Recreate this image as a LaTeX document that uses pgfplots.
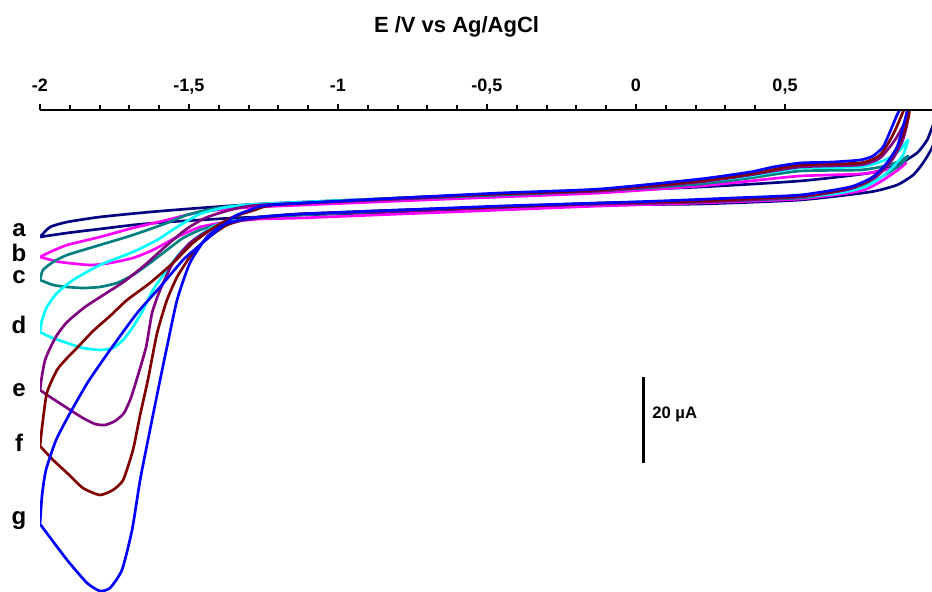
\documentclass[border=0pt]{standalone}
\usepackage{fontspec}
\setmainfont{Liberation Sans}
\usepackage{pgfplots}
\pgfplotsset{compat=1.18}
\definecolor{cnavy}{RGB}{0,0,128}
\definecolor{cmag}{RGB}{255,0,255}
\definecolor{cteal}{RGB}{0,128,128}
\definecolor{ccyan}{RGB}{0,255,255}
\definecolor{cpurp}{RGB}{128,0,128}
\definecolor{cmaroon}{RGB}{128,0,0}
\definecolor{cblue}{RGB}{0,0,255}
\begin{document}
\begin{tikzpicture}
\useasboundingbox (0,0) rectangle (699pt,444pt);
\begin{axis}[
  at={(30pt,0pt)}, anchor=south west,
  scale only axis, width=669pt, height=361.5pt,
  xmin=-2, xmax=0.9933, ymin=-91.16, ymax=20.93,
  axis x line*=top, axis y line=none,
  axis on top,
  xtick={-2,-1.5,-1,-0.5,0,0.5},
  xticklabels={-2,{-1,5},-1,{-0,5},0,{0,5}},
  minor x tick num=4,
  tick align=outside,
  major tick length=4.5pt, minor tick length=3.5pt,
  every tick/.style={black, line width=1.5pt},
  x axis line style={line width=2pt},
  xticklabel style={font=\fontsize{13.5}{13.5}\selectfont\bfseries, anchor=base, yshift=9.5pt},
  every axis plot/.append style={line width=2pt, line join=round, no markers, smooth, tension=0.35},
]
% a (navy)
\addplot[cnavy] coordinates {
(-2.000,-8.60) (-1.966,-6.28) (-1.909,-5.12) (-1.799,-3.95) (-1.631,-2.79) (-1.463,-1.86)
(-1.262,-0.93) (-0.792,0.47) (-0.456,1.40) (-0.121,2.09) (0.215,3.02) (0.550,4.42)
(0.785,6.28) (0.876,8.14) (0.943,10.93) (0.977,13.95) (0.993,16.74) (1.037,23.72)
(1.020,17.44) (0.993,12.09) (0.963,8.60) (0.930,5.81) (0.876,3.49) (0.785,1.86)
(0.550,0) (0.215,-0.93) (-0.121,-1.16) (-0.456,-1.86) (-0.792,-2.79) (-1.128,-3.49)
(-1.262,-3.95) (-1.352,-4.19) (-1.463,-4.65) (-1.574,-5.12) (-1.688,-5.81) (-1.799,-6.74)
(-1.909,-7.67) (-2.000,-8.60)};
% b (magenta)
\addplot[cmag] coordinates {
(-2.000,-13.26) (-1.966,-12.09) (-1.909,-10.47) (-1.799,-8.60) (-1.688,-6.51) (-1.574,-4.65)
(-1.463,-2.79) (-1.329,-1.86) (-1.195,-1.40) (-0.792,-0.23) (-0.456,0.70) (-0.121,1.63)
(0.215,3.26) (0.383,4.42) (0.550,5.58) (0.752,6.05) (0.836,6.98) (0.886,7.91) (0.906,8.60)
(0.879,6.98) (0.819,4.19) (0.752,2.09) (0.550,0.23) (0.215,-0.70) (-0.121,-1.40)
(-0.456,-2.33) (-0.792,-3.26) (-1.128,-4.19) (-1.262,-4.42) (-1.372,-5.12) (-1.463,-6.28)
(-1.540,-8.60) (-1.621,-11.63) (-1.688,-13.49) (-1.765,-14.65) (-1.832,-15.12)
(-1.933,-14.42) (-2.000,-13.26)};
% c (teal)
\addplot[cteal] coordinates {
(-2.000,-18.60) (-1.990,-16.28) (-1.956,-14.42) (-1.909,-12.79) (-1.799,-10.47) (-1.688,-8.14)
(-1.574,-5.35) (-1.507,-3.49) (-1.406,-1.86) (-1.262,-1.16) (-0.792,0.23) (-0.456,1.16)
(-0.121,2.09) (0.215,3.72) (0.383,5.12) (0.550,6.74) (0.752,6.98) (0.836,7.91) (0.886,9.07)
(0.913,10.23) (0.886,8.14) (0.819,5.12) (0.752,2.79) (0.651,1.40) (0.550,0.47) (0.215,-0.47)
(-0.121,-0.93) (-0.456,-1.63) (-0.792,-2.56) (-1.128,-3.49) (-1.285,-4.19) (-1.372,-5.12)
(-1.463,-6.98) (-1.520,-8.84) (-1.574,-11.63) (-1.631,-14.65) (-1.688,-17.44) (-1.742,-19.30)
(-1.799,-20.23) (-1.856,-20.47) (-1.909,-20.23) (-1.956,-19.77) (-2.000,-18.60)};
% d (cyan)
\addplot[ccyan] coordinates {
(-2.000,-30.70) (-1.993,-27.91) (-1.977,-24.88) (-1.943,-21.63) (-1.889,-18.60) (-1.799,-15.12)
(-1.688,-12.09) (-1.607,-9.30) (-1.540,-6.28) (-1.463,-3.26) (-1.372,-1.63) (-1.262,-0.93)
(-0.792,0.47) (-0.456,1.40) (-0.121,2.33) (0.215,4.19) (0.383,5.58) (0.550,7.44) (0.752,7.67)
(0.836,9.30) (0.886,11.63) (0.913,13.95) (0.896,10.47) (0.869,8.14) (0.829,5.58) (0.768,3.02)
(0.685,1.63) (0.550,0.70) (0.215,-0.23) (-0.121,-0.70) (-0.456,-1.63) (-0.792,-2.33)
(-1.128,-3.26) (-1.262,-3.95) (-1.329,-4.65) (-1.406,-5.81) (-1.473,-8.60) (-1.530,-12.33)
(-1.574,-16.28) (-1.621,-20.93) (-1.654,-25.58) (-1.688,-29.53) (-1.721,-32.56) (-1.755,-34.42)
(-1.799,-34.88) (-1.856,-34.42) (-1.909,-33.26) (-1.966,-31.86) (-2.000,-30.70)};
% e (purple)
\addplot[cpurp] coordinates {
(-2.000,-44.19) (-1.993,-40.70) (-1.983,-37.21) (-1.966,-34.42) (-1.943,-31.40) (-1.909,-28.37)
(-1.849,-24.88) (-1.782,-21.86) (-1.715,-18.84) (-1.648,-15.12) (-1.581,-10.93) (-1.513,-6.98)
(-1.446,-4.19) (-1.362,-2.33) (-1.262,-1.16) (-0.792,0.23) (-0.456,1.40) (-0.121,2.09)
(0.215,4.19) (0.383,5.81) (0.550,7.67) (0.752,8.14) (0.819,9.77) (0.869,13.95) (0.903,18.14)
(0.913,19.77) (0.909,17.44) (0.893,13.49) (0.859,9.30) (0.805,5.35) (0.718,2.56) (0.550,0.70)
(0.215,-0.47) (-0.121,-0.93) (-0.456,-1.63) (-0.792,-2.56) (-1.128,-3.26) (-1.262,-4.19)
(-1.329,-4.88) (-1.430,-6.98) (-1.497,-10.00) (-1.554,-14.65) (-1.597,-20.93) (-1.624,-26.28)
(-1.644,-34.19) (-1.674,-41.40) (-1.695,-46.05) (-1.718,-49.53) (-1.748,-51.40) (-1.782,-52.33)
(-1.815,-52.09) (-1.856,-50.70) (-1.909,-48.37) (-1.966,-45.81) (-2.000,-44.19)};
% f (maroon)
\addplot[cmaroon] coordinates {
(-2.000,-57.21) (-1.993,-52.79) (-1.977,-44.88) (-1.943,-39.53) (-1.909,-36.74) (-1.876,-34.42)
(-1.822,-30.47) (-1.765,-26.98) (-1.708,-23.26) (-1.631,-19.30) (-1.554,-14.65) (-1.487,-10.00)
(-1.419,-6.51) (-1.352,-3.95) (-1.279,-2.33) (-1.211,-1.16) (-0.792,0.47) (-0.456,1.40)
(-0.121,2.33) (0.215,4.42) (0.383,6.05) (0.550,8.14) (0.752,8.60) (0.819,10.47) (0.862,15.12)
(0.896,20.47) (0.919,24.42) (0.916,19.77) (0.899,15.81) (0.872,11.63) (0.832,7.67) (0.772,4.19)
(0.685,2.33) (0.550,0.93) (0.215,-0.23) (-0.121,-0.70) (-0.456,-1.63) (-0.792,-2.33)
(-1.128,-3.26) (-1.262,-3.95) (-1.329,-4.65) (-1.379,-6.05) (-1.446,-9.30) (-1.497,-13.26)
(-1.540,-17.91) (-1.574,-23.26) (-1.607,-30.93) (-1.638,-41.86) (-1.664,-50.00) (-1.688,-58.14)
(-1.721,-65.12) (-1.755,-67.44) (-1.799,-68.60) (-1.856,-66.98) (-1.909,-63.49) (-1.956,-60.47)
(-2.000,-57.21)};
% g (blue)
\addplot[cblue] coordinates {
(-2.000,-75.35) (-1.993,-68.60) (-1.980,-62.79) (-1.946,-55.81) (-1.899,-49.53) (-1.839,-42.33)
(-1.765,-34.88) (-1.674,-26.28) (-1.597,-20.23) (-1.520,-13.95) (-1.463,-10.47) (-1.396,-6.51)
(-1.346,-3.72) (-1.295,-2.33) (-1.228,-1.16) (-0.792,0.47) (-0.456,1.63) (-0.121,2.56)
(0.215,4.88) (0.383,6.51) (0.460,7.67) (0.550,8.60) (0.661,8.84) (0.752,9.30) (0.795,10.23)
(0.829,12.33) (0.852,15.81) (0.876,19.77) (0.896,22.33) (0.923,25.12) (0.909,20.47)
(0.896,16.98) (0.876,12.33) (0.842,8.60) (0.795,5.35) (0.718,3.02) (0.550,1.16) (0.326,0.47)
(0.081,-0.23) (-0.121,-0.70) (-0.456,-1.40) (-0.792,-2.33) (-1.128,-3.26) (-1.262,-3.95)
(-1.329,-4.65) (-1.386,-5.81) (-1.440,-8.60) (-1.497,-14.65) (-1.540,-23.26) (-1.574,-34.19)
(-1.597,-41.86) (-1.631,-53.49) (-1.664,-65.12) (-1.691,-76.74) (-1.725,-86.05) (-1.765,-90.23)
(-1.799,-90.93) (-1.842,-89.07) (-1.909,-83.72) (-2.000,-75.35)};
% scale bar 20 uA
\draw[line width=2.25pt] (axis cs:0.0268,-41.16) -- (axis cs:0.0268,-61.16);
\node[anchor=base west, inner sep=0pt, font=\fontsize{12.5}{12.5}\selectfont\bfseries]
  at (axis cs:0.0537,-50.7) {20 µA};
\end{axis}
\node[anchor=base, inner sep=0pt, font=\fontsize{16.5}{16.5}\selectfont\bfseries] at (342.4pt,419.25pt) {E /V vs Ag/AgCl};
\begin{scope}[every node/.style={anchor=base, inner sep=0pt, font=\fontsize{18}{18}\selectfont\bfseries}]
\node at (14.25pt,266.25pt) {a};
\node at (14.25pt,247.7pt) {b};
\node at (14.25pt,231.5pt) {c};
\node at (14.25pt,193.5pt) {d};
\node at (14.25pt,146.25pt) {e};
\node at (14.25pt,105.2pt) {f};
\node at (14.25pt,50.6pt) {g};
\end{scope}
\end{tikzpicture}
\end{document}
